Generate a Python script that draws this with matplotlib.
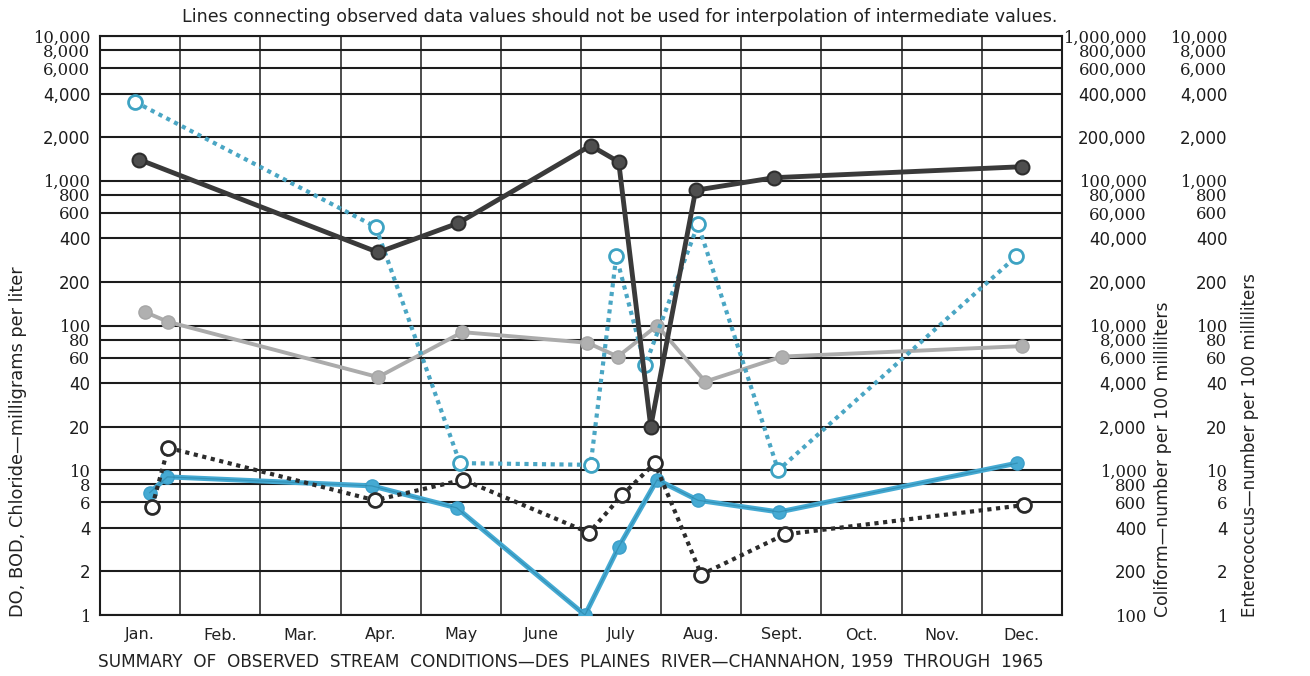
import matplotlib
matplotlib.use("Agg")
import matplotlib.pyplot as plt
from matplotlib.ticker import NullLocator

# ---- data -------------------------------------------------------------
months = ["Jan.", "Feb.", "Mar.", "Apr.", "May", "June", "July", "Aug.",
          "Sept.", "Oct.", "Nov.", "Dec."]

# sampling times, in months counted from Jan 1
coliform_t = [0.49, 3.47, 4.47, 6.12, 6.47, 6.87, 7.43, 8.41, 11.50]
coliform = [140000, 32000, 51000, 175000, 135000, 2000, 86000, 105000, 125000]

entero_t = [0.44, 3.44, 4.49, 6.12, 6.44, 6.80, 7.46, 8.46, 11.43]
entero = [3500, 480, 11.2, 10.9, 300, 53, 500, 10.0, 300]

chloride_t = [0.56, 0.85, 3.47, 4.52, 6.08, 6.46, 6.95, 7.55, 8.51, 11.50]
chloride = [124, 106, 44, 90, 76, 61, 100, 41, 61, 72]

do_t = [0.62, 0.84, 3.39, 4.45, 6.05, 6.47, 6.95, 7.46, 8.47, 11.44]
do = [7.0, 9.0, 7.8, 5.5, 1.0, 2.95, 8.6, 6.2, 5.15, 11.2]

bod_t = [0.65, 0.85, 3.43, 4.53, 6.10, 6.51, 6.92, 7.50, 8.54, 11.53]
bod = [5.6, 14.3, 6.2, 8.6, 3.7, 6.7, 11.2, 1.9, 3.6, 5.75]

mg_ticks = [1, 2, 4, 6, 8, 10, 20, 40, 60, 80, 100, 200, 400, 600, 800,
            1000, 2000, 4000, 6000, 8000, 10000]
coliform_ticks = [v * 100 for v in mg_ticks]
entero_ticks = mg_ticks

# ---- figure -----------------------------------------------------------
W, H = 1310, 676
fig = plt.figure(figsize=(W / 100, H / 100), dpi=100)
fig.patch.set_facecolor("white")

ax = fig.add_axes([100 / W, 61 / H, 962 / W, 579 / H])
ax.set_xlim(0, 12)
ax.set_yscale("log")
ax.set_ylim(1, 10000)

INK = "#1c1c1c"
TEXT = "#222222"
SANS = "DejaVu Sans"
SERIF = "DejaVu Serif"


def fmt(v):
    return f"{v:,}"


def style_labels(labels, values):
    # log-paper style: 2 and 4 lines use a plain sans face, the others serif
    for lab, v in zip(labels, values):
        lead = str(v)[0]
        lab.set_fontfamily(SANS if lead in "24" else SERIF)
        lab.set_fontsize(12 if lead in "24" else 11.8)
        lab.set_color(INK)


# month grid and labels
ax.set_xticks(range(13))
ax.set_xticklabels([""] * 13)
ax.set_xticks([m + 0.5 for m in range(12)], minor=True)
ax.set_xticklabels(months, minor=True)
for lab in ax.get_xticklabels(minor=True):
    lab.set_fontfamily(SANS)
    lab.set_fontsize(11.5)
    lab.set_color(TEXT)

ax.set_yticks(mg_ticks)
ax.set_yticklabels([fmt(v) for v in mg_ticks])
ax.yaxis.set_minor_locator(NullLocator())
style_labels(ax.get_yticklabels(), mg_ticks)

ax.tick_params(axis="both", which="both", length=0)
ax.tick_params(axis="y", pad=7)
ax.tick_params(axis="x", which="minor", pad=9)

ax.set_axisbelow(True)
ax.grid(True, which="major", axis="y", color=INK, lw=1.5)
ax.grid(True, which="major", axis="x", color=INK, lw=1.1)
for sp in ax.spines.values():
    sp.set_color(INK)
    sp.set_linewidth(1.5)

# mg/L series
ax.plot(chloride_t, chloride, color="#ababab", lw=2.8, marker="o", ms=9.5,
        mfc="#b0b0b0", mec="#a6a6a6", mew=1, zorder=3)
ax.plot(do_t, do, color="#45aad3", lw=3.6, marker="o", ms=9.5,
        mfc="#45aad3", mec="#3c9fca", mew=1, zorder=4)
ax.plot(do_t, do, color="#1f7596", lw=0.9, alpha=0.45, zorder=4)
ax.plot(bod_t, bod, color="#2c2c2c", lw=3, ls=(0, (1, 1.1)), marker="o",
        ms=10, mfc="white", mec="#2a2a2a", mew=2, zorder=5)

# enterococcus scale (right, outer column)
ax_ent = ax.twinx()
ax_ent.set_yscale("log")
ax_ent.set_ylim(1, 10000)
ax_ent.set_yticks(entero_ticks)
ax_ent.set_yticklabels([fmt(v) for v in entero_ticks])
ax_ent.yaxis.set_minor_locator(NullLocator())
ax_ent.tick_params(axis="y", length=0, pad=119)
for t in ax_ent.yaxis.get_major_ticks():
    t.label2.set_horizontalalignment("right")
style_labels(ax_ent.get_yticklabels(), entero_ticks)
for sp in ax_ent.spines.values():
    sp.set_visible(False)
ax_ent.plot(entero_t, entero, color="#4aa6c4", lw=3, ls=(0, (1, 1.1)),
            marker="o", ms=10, mfc="white", mec="#3ea3c3", mew=2)

# coliform scale (right, inner column)
ax_coli = ax.twinx()
ax_coli.set_yscale("log")
ax_coli.set_ylim(100, 1000000)
ax_coli.set_yticks(coliform_ticks)
ax_coli.set_yticklabels([fmt(v) for v in coliform_ticks])
ax_coli.yaxis.set_minor_locator(NullLocator())
ax_coli.tick_params(axis="y", length=0, pad=61)
for t in ax_coli.yaxis.get_major_ticks():
    t.label2.set_horizontalalignment("right")
style_labels(ax_coli.get_yticklabels(), coliform_ticks)
for sp in ax_coli.spines.values():
    sp.set_visible(False)
ax_coli.plot(coliform_t, coliform, color="#3a3a3a", lw=3.5, marker="o",
             ms=10, mfc="#4e4e4e", mec="#2e2e2e", mew=1.5)

# ---- text ---------------------------------------------------------------
fig.text(1057 / W, 1 - 17 / H,
         "Lines connecting observed data values should not be used for "
         "interpolation of intermediate values.",
         ha="right", va="center", fontsize=12.6, color=TEXT,
         fontfamily=SANS)
fig.text(98 / W, 1 - 662 / H,
         "SUMMARY  OF  OBSERVED  STREAM  CONDITIONS\u2014DES  PLAINES  "
         "RIVER\u2014CHANNAHON, 1959  THROUGH  1965",
         ha="left", va="center", fontsize=12.2, color=TEXT,
         fontfamily=SANS)
fig.text(18 / W, 1 - 617 / H, "DO, BOD, Chloride\u2014milligrams per liter",
         rotation=90, ha="center", va="bottom", fontsize=12.8, color=TEXT,
         fontfamily=SANS)
fig.text(1163 / W, 1 - 617 / H, "Coliform\u2014number per 100 milliliters",
         rotation=90, ha="center", va="bottom", fontsize=12.4, color=TEXT,
         fontfamily=SANS)
fig.text(1250 / W, 1 - 617 / H, "Enterococcus\u2014number per 100 milliliters",
         rotation=90, ha="center", va="bottom", fontsize=12, color=TEXT,
         fontfamily=SANS)

fig.savefig("out.png", dpi=100, facecolor="white")
